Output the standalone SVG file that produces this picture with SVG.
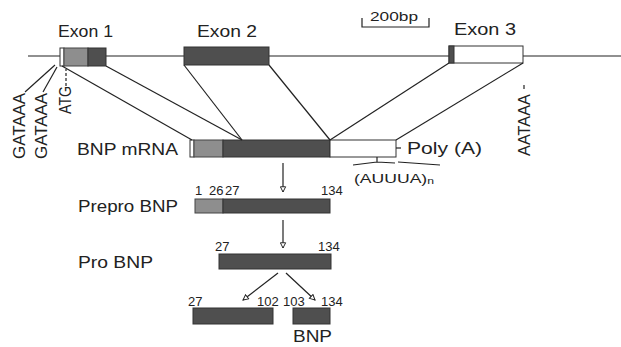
<svg xmlns="http://www.w3.org/2000/svg" width="621" height="347" viewBox="0 0 621 347">
  <style>
    .lbl { font-family: "Liberation Sans", Arial, sans-serif; font-size: 16px; fill: #222; }
    .num { font-family: "Liberation Sans", Arial, sans-serif; font-size: 13px; fill: #222; }
    .dark { fill: #4f4f4f; stroke: #333; stroke-width: 1; }
    .light { fill: #8e8e8e; stroke: #444; stroke-width: 1; }
    .white { fill: #fff; stroke: #333; stroke-width: 1; }
    .ln { stroke: #222; stroke-width: 1.2; fill: none; }
  </style>
  <defs>
    <marker id="openHead" viewBox="0 0 8 8" refX="7" refY="4" markerWidth="7" markerHeight="7" markerUnits="userSpaceOnUse" orient="auto">
      <path d="M1,1 L7,4 L1,7 z" fill="#fff" stroke="#222" stroke-width="1.1"/>
    </marker>
  </defs>
  <rect width="621" height="347" fill="#fff"/>

  <!-- genomic locus -->
  <g id="gene">
    <line class="ln" x1="28" y1="56" x2="621" y2="56"/>
    <g id="exon1">
      <rect class="white" x="60" y="48" width="4" height="18"/>
      <rect class="light" x="64" y="48" width="24" height="18"/>
      <rect class="dark" x="88" y="48" width="18" height="18"/>
      <text class="lbl" x="58" y="37" textLength="55" lengthAdjust="spacingAndGlyphs">Exon 1</text>
    </g>
    <g id="exon2">
      <rect class="dark" x="184" y="47" width="85" height="18"/>
      <text class="lbl" x="197" y="37" textLength="60" lengthAdjust="spacingAndGlyphs">Exon 2</text>
    </g>
    <g id="exon3">
      <rect class="white" x="449" y="46" width="74" height="17"/>
      <rect class="dark" x="449" y="46" width="5" height="17"/>
      <text class="lbl" x="454" y="35" textLength="62" lengthAdjust="spacingAndGlyphs">Exon 3</text>
    </g>
    <g id="scale">
      <path class="ln" d="M362,18 V27 H429 V18" stroke-width="1"/>
      <text class="num" x="370" y="21" textLength="48" lengthAdjust="spacingAndGlyphs">200bp</text>
    </g>
    <g id="motifs">
      <line class="ln" x1="25" y1="92" x2="55" y2="65" stroke-width="1"/>
      <line class="ln" x1="43" y1="92" x2="57" y2="67" stroke-width="1"/>
      <text class="lbl" transform="translate(25,159) rotate(-90)" textLength="66" lengthAdjust="spacingAndGlyphs">GATAAA</text>
      <text class="lbl" transform="translate(47,159) rotate(-90)" textLength="66" lengthAdjust="spacingAndGlyphs">GATAAA</text>
      <text class="lbl" transform="translate(71,114) rotate(-90)" textLength="28" lengthAdjust="spacingAndGlyphs">ATG</text>
      <line class="ln" x1="66" y1="86" x2="66" y2="69" stroke-width="1" stroke-dasharray="3,2"/>
      <text class="lbl" transform="translate(530,156) rotate(-90)" textLength="62" lengthAdjust="spacingAndGlyphs">AATAAA</text>
      <line class="ln" x1="524" y1="89" x2="524" y2="85" stroke-width="1"/>
    </g>
  </g>

  <!-- mRNA -->
  <g id="mrna">
    <rect class="white" x="190" y="140" width="4" height="17"/>
    <rect class="light" x="194" y="140" width="29" height="17"/>
    <rect class="dark" x="223" y="140" width="107" height="17"/>
    <rect class="white" x="330" y="140" width="66" height="17"/>
    <text class="lbl" x="77" y="155" textLength="101" lengthAdjust="spacingAndGlyphs">BNP mRNA</text>
    <line class="ln" x1="396" y1="148" x2="401" y2="148" stroke-width="1"/>
    <text class="lbl" x="407" y="154" textLength="75" lengthAdjust="spacingAndGlyphs">Poly (A)</text>
    <path class="ln" d="M353,165 L377,162 L395,163 M377,162 V157 M398,162 L440,165" stroke-width="1"/>
    <text class="num" x="354" y="183" font-size="13" textLength="80" lengthAdjust="spacingAndGlyphs">(AUUUA)<tspan font-size="9" dy="1">n</tspan></text>
  </g>

  <!-- prepro BNP -->
  <g id="prepro">
    <rect class="light" x="195" y="199" width="28" height="14"/>
    <rect class="dark" x="223" y="199" width="107" height="14"/>
    <text class="lbl" x="78" y="212" textLength="100" lengthAdjust="spacingAndGlyphs">Prepro BNP</text>
    <text class="num" x="195" y="195">1</text>
    <text class="num" x="209" y="195">26</text>
    <text class="num" x="225" y="195">27</text>
    <text class="num" x="321" y="195">134</text>
  </g>

  <!-- pro BNP -->
  <g id="pro">
    <rect class="dark" x="219" y="254" width="112" height="15"/>
    <text class="lbl" x="78" y="268" textLength="75" lengthAdjust="spacingAndGlyphs">Pro BNP</text>
    <text class="num" x="215" y="251">27</text>
    <text class="num" x="318" y="251">134</text>
  </g>

  <!-- cleavage products -->
  <g id="nterm">
    <rect class="dark" x="193" y="308" width="80" height="16"/>
    <text class="num" x="188" y="306">27</text>
    <text class="num" x="257" y="306">102</text>
  </g>
  <g id="bnp">
    <rect class="dark" x="293" y="308" width="37" height="16"/>
    <text class="num" x="283" y="306">103</text>
    <text class="num" x="321" y="306">134</text>
    <text class="lbl" x="293" y="342" textLength="39" lengthAdjust="spacingAndGlyphs">BNP</text>
  </g>

  <!-- connectors -->
  <g id="connectors">
    <line class="ln" x1="62" y1="66" x2="192" y2="140"/>
    <line class="ln" x1="106" y1="66" x2="242" y2="140"/>
    <line class="ln" x1="184" y1="65" x2="242" y2="140"/>
    <line class="ln" x1="269" y1="65" x2="330" y2="140"/>
    <line class="ln" x1="449" y1="63" x2="330" y2="140"/>
    <line class="ln" x1="523" y1="63" x2="396" y2="140"/>
    <line class="ln" x1="283" y1="163" x2="283" y2="192" marker-end="url(#openHead)"/>
    <line class="ln" x1="283" y1="220" x2="283" y2="248" marker-end="url(#openHead)"/>
    <line class="ln" x1="278" y1="273" x2="243" y2="300" marker-end="url(#openHead)"/>
    <line class="ln" x1="286" y1="273" x2="315" y2="300" marker-end="url(#openHead)"/>
  </g>
</svg>
